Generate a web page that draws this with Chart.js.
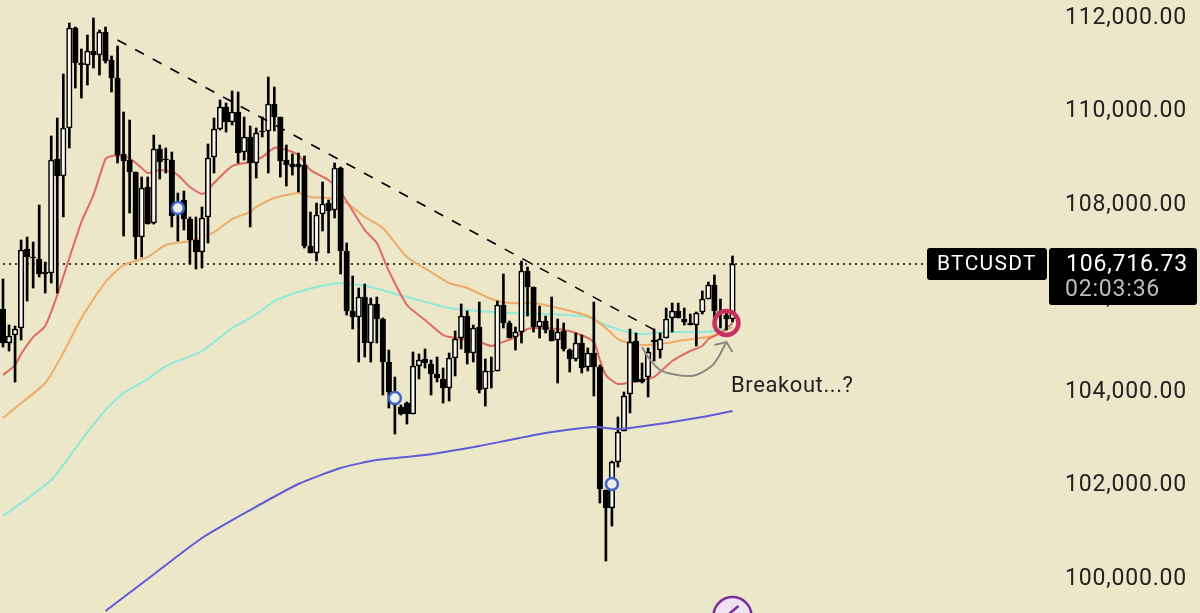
<!DOCTYPE html>
<html><head><meta charset="utf-8">
<style>html,body{margin:0;padding:0;background:#ebe7c8;overflow:hidden}canvas{display:block}</style>
<script src="https://cdn.jsdelivr.net/npm/chart.js@4/dist/chart.umd.js"></script>
</head><body><canvas id="c" width="1200" height="613" style="width:1200px;height:613px"></canvas>
<script>
const opens=[105754,105027,105198,105348,107038,106866,106824,106546,106524,108963,108599,109626,111765,111016,110973,111273,111187,111679,111080,110695,109070,108941,108685,107294,108364,107594,109177,108963,108941,107808,108086,107679,107230,106973,107722,109005,109604,110075,109754,109968,109112,109433,108877,109562,109562,110139,109861,108941,108856,108856,108834,107102,106952,107786,108021,107872,108770,106995,105711,105583,106011,105027,105861,105540,104620,103701,103658,103743,103508,104535,104685,104578,104364,104257,104064,104706,105134,105604,104813,105369,104043,104428,104428,105840,105455,105155,105262,106567,106225,105369,105497,105305,105091,105284,104877,104685,105027,104513,104813,104513,101883,101498,102481,103145,103936,105070,104257,104300,105091,104877,105134,105562,105711,105540,105455,105412,105690,105968,106267,105711,105626,105540];
const closes=[105027,105177,105326,107016,106866,106845,106503,106503,108941,108599,109626,111765,111016,110973,111273,111187,111679,111059,110695,109048,108920,108685,107294,108342,107572,109177,108898,108941,107743,107979,107679,107230,106973,107701,108984,109604,110075,109754,109968,109091,109433,108877,109519,109540,110139,109861,108920,108834,108791,108791,107102,106952,107765,108000,107850,108770,106995,105711,105583,106011,105027,105861,105540,104620,103979,103957,103508,103508,104535,104663,104599,104364,104278,104064,104706,105112,105604,104813,105348,104022,104428,104407,105840,105455,105134,105262,106567,106225,105369,105497,105305,105070,105262,104899,104685,105027,104492,104813,104513,101904,101498,102481,103123,103893,105048,104193,104193,104834,105048,105112,105540,105711,105562,105476,105412,105669,105968,106267,105711,105647,105540,106717];
const highs=[106396,105412,105390,107230,107294,107187,107979,106759,109455,109840,110781,111872,111786,111316,111615,111979,111722,111786,111166,111380,109968,109797,108685,108578,108578,109476,109262,109198,109112,108235,108278,107722,107722,107936,109283,109840,110225,110160,110417,110396,109861,109668,109626,109861,110717,110503,109861,109262,109070,109091,109027,107829,108021,108471,108086,108877,108791,107166,106460,106203,106289,105989,106011,105562,104877,104300,103701,103765,104834,104792,104899,104663,104727,104492,104813,105284,105861,105711,105412,105904,104685,104727,105925,106503,105497,105369,106781,106652,106225,105818,105604,106011,105540,105455,104899,105241,105198,104920,105904,104556,101883,102503,103444,103979,105326,105241,104599,104920,105326,105241,105776,105882,105882,105776,105647,105690,106139,106332,106481,105968,105733,106888];
const lows=[104941,104856,104193,105091,105925,106203,106439,106096,106310,106096,107722,109198,110481,110267,110545,110909,110759,111016,110396,108877,107316,107808,106824,106866,107572,107572,108535,108663,107508,107209,107444,106717,106610,106631,107166,108663,109583,109540,109690,108877,108941,107508,108556,109433,108663,109562,108578,108385,108620,108257,107059,106952,106781,107423,106952,107701,106503,105626,105326,104620,104727,104620,105027,103915,103637,103080,103487,103294,103508,104257,104492,103915,104193,103743,103786,104321,104899,104578,104620,103957,103679,104064,104428,105348,105134,104877,105027,105604,105262,105134,105241,105070,104171,104856,104407,104642,104385,104428,103893,101604,100364,101112,102374,103145,103530,104193,104171,103872,104642,104706,105134,105262,105562,105412,105412,104963,105647,105968,105562,105348,105305,105476];

const redIdx=[0,2,3,5,7,9,11,13,15,17,18,20,21,23,24,26,28,29,31,33,34,35,38,41,43,45,47,49,51,54,56,60,62,64,67,70,73,75,79,81,82,85,87,89,92,95,98,99,100,102,106,108,111,114,116,117,119,121];
const redVal=[104342,104556,104792,105155,105390,106053,106845,107615,108193,108963,109027,109016,108984,108770,108663,108727,108685,108620,108364,108214,108300,108449,108813,108898,109005,109198,109155,109048,108727,108513,108257,107444,107166,106567,105840,105519,105198,105134,105048,104963,105005,105155,105326,105348,105326,105241,105048,104663,104342,104150,104235,104300,104642,104856,104963,105112,105241,105455];
const orangeIdx=[0,2,7,10,13,17,20,24,27,31,35,38,41,42,45,49,51,54,57,60,63,67,71,74,77,81,84,88,92,97,100,102,104,106,109,113,117,119,121];
const orangeVal=[103422,103637,104171,104813,105562,106332,106695,106866,107123,107209,107401,107679,107829,107936,108128,108235,108150,108128,108021,107722,107487,106866,106546,106310,106203,105968,105882,105882,105776,105604,105348,105112,105027,104984,105005,105091,105155,105241,105369];
const cyanIdx=[0,8,13,17,20,24,27,33,38,41,43,45,49,52,56,61,64,67,74,81,84,90,97,100,103,106,110,116,119,121];
const cyanVal=[101326,102096,102952,103594,103957,104257,104535,104856,105348,105562,105733,105925,106118,106225,106310,106225,106118,106011,105776,105690,105669,105647,105583,105412,105284,105219,105262,105262,105305,105412];
const blueIdx=[17,24,33,41,49,56,62,70,79,84,90,98,102,104,110,116,121];
const blueVal=[99294,99979,100856,101455,102011,102353,102524,102631,102824,102952,103102,103230,103187,103209,103316,103444,103572];
const trendIdx=[19,109];
const trendVal=[111508,105241];
const lastPrice=106716.73;
const priceLineIdx=[0,153];
const markerIdx=[29,65,101];
const markerVal=[107914,103850,102011];
const ringIdx=[120];
const ringVal=[105455];
const arrowIdx=[106,107,109,111,114,116,118,120];
const arrowVal=[104941,104727,104449,104364,104321,104406,104599,105048];
const arrowHeadIdx=[118,120,121];
const arrowHeadVal=[104984,105048,104834];
const badgeIdx=[121];
const badgeVal=[99187];
const badgeTickIdx=[120,122];
const badgeTickVal=[99187,99401];
const tickValues=[100000,102000,104000,106000,108000,110000,112000];
const categories=Array.from({length:174},(_,i)=>String(i));
const symbolText="BTCUSDT";
const priceText="106,716.73";
const timerText="02:03:36";
const noteText="Breakout...?";

const pts=(ix,vs)=>ix.map((x,k)=>({x:String(x),y:vs[k]}));
const lineDs=(ix,vs,color,order,extra)=>Object.assign({type:'line',data:pts(ix,vs),borderColor:color,borderWidth:2,pointRadius:0,tension:0.2,fill:false,order},extra||{});

const overlay={id:'overlay',
 beforeDraw(ch){ch.ctx.letterSpacing='0.8px';},
 afterDraw(ch){
  const c=ch.ctx,y=ch.scales.y.getPixelForValue(lastPrice);
  c.save();
  c.fillStyle='#000';
  c.beginPath();c.roundRect(927,y-16,120,32,3);c.fill();
  c.beginPath();c.roundRect(1049,y-16,148,57,3);c.fill();
  c.textBaseline='middle';c.textAlign='left';
  c.fillStyle='#fff';c.font='21px Roboto';c.letterSpacing='1.3px';c.fillText(symbolText,937,y+1);
  c.letterSpacing='0.8px';
  c.font='23px Roboto';c.fillText(priceText,1066,y+1);
  c.fillStyle='#bdbdbd';c.fillText(timerText,1065,y+26);
  c.fillStyle='#222';c.font='22px Roboto';c.letterSpacing='0.6px';
  c.fillText(noteText,731,ch.scales.y.getPixelForValue(104100));
  c.restore();
 }};

new Chart(document.getElementById('c'),{
 data:{labels:categories,datasets:[
  {type:'bar',data:highs.map((h,i)=>[lows[i],h]),barThickness:2,backgroundColor:'#000',grouped:false,order:6},
  {type:'bar',data:opens.map((o,i)=>[Math.min(o,closes[i]),Math.max(o,closes[i])]),barThickness:5.5,grouped:false,order:5,
   backgroundColor:opens.map((o,i)=>closes[i]>=o?'#f8f7ee':'#000'),borderColor:'#000',borderWidth:1.6,borderSkipped:false},
  lineDs(blueIdx,blueVal,'#5d5cd8',4),
  lineDs(cyanIdx,cyanVal,'#8eead9',9),
  lineDs(orangeIdx,orangeVal,'#eeaa66',8),
  lineDs(redIdx,redVal,'#e06a62',7),
  lineDs(trendIdx,trendVal,'#000',3,{borderWidth:1.6,borderDash:[10,10],tension:0}),
  lineDs(priceLineIdx,[lastPrice,lastPrice],'#000',10,{borderWidth:1.6,borderDash:[2,4],tension:0}),
  lineDs(arrowIdx,arrowVal,'#8a8a84',2,{tension:0.4}),
  lineDs(arrowHeadIdx,arrowHeadVal,'#8a8a84',2,{tension:0}),
  lineDs(markerIdx,markerVal,'#3f63c9',1,{showLine:false,pointRadius:6,pointBorderWidth:2.5,pointBorderColor:'#3f63c9',pointBackgroundColor:'#eef0ea'}),
  lineDs(ringIdx,ringVal,'#c9305f',1,{showLine:false,pointRadius:12,pointBorderWidth:4.5,pointBorderColor:'#c9305f',pointBackgroundColor:'rgba(0,0,0,0)'}),
  lineDs(badgeIdx,badgeVal,'#7a2c9e',1,{showLine:false,pointRadius:19,pointBorderWidth:2.5,pointBorderColor:'#7a2c9e',pointBackgroundColor:'#efe3f2'}),
  lineDs(badgeTickIdx,badgeTickVal,'#7a2c9e',0,{borderWidth:2.5,tension:0})
 ]},
 options:{responsive:false,animation:false,devicePixelRatio:1,
  layout:{padding:0,autoPadding:false},
  plugins:{legend:{display:false},tooltip:{enabled:false}},
  scales:{
   x:{type:'category',display:false,offset:true,grid:{display:false}},
   y:{type:'linear',position:'right',min:99252,max:112364,
    grid:{display:false},border:{display:false},
    afterFit(s){s.width=151;s.paddingTop=0;s.paddingBottom=0;s.paddingLeft=0;s.paddingRight=0;},
    afterBuildTicks(s){s.ticks=tickValues.map(value=>({value}));},
    ticks:{padding:8,color:'#222',labelOffset:1,font:{family:'Roboto',size:23},
     callback:v=>v.toLocaleString('en-US',{minimumFractionDigits:2,maximumFractionDigits:2})}
   }
  }
 },
 plugins:[overlay]
});
</script></body></html>
